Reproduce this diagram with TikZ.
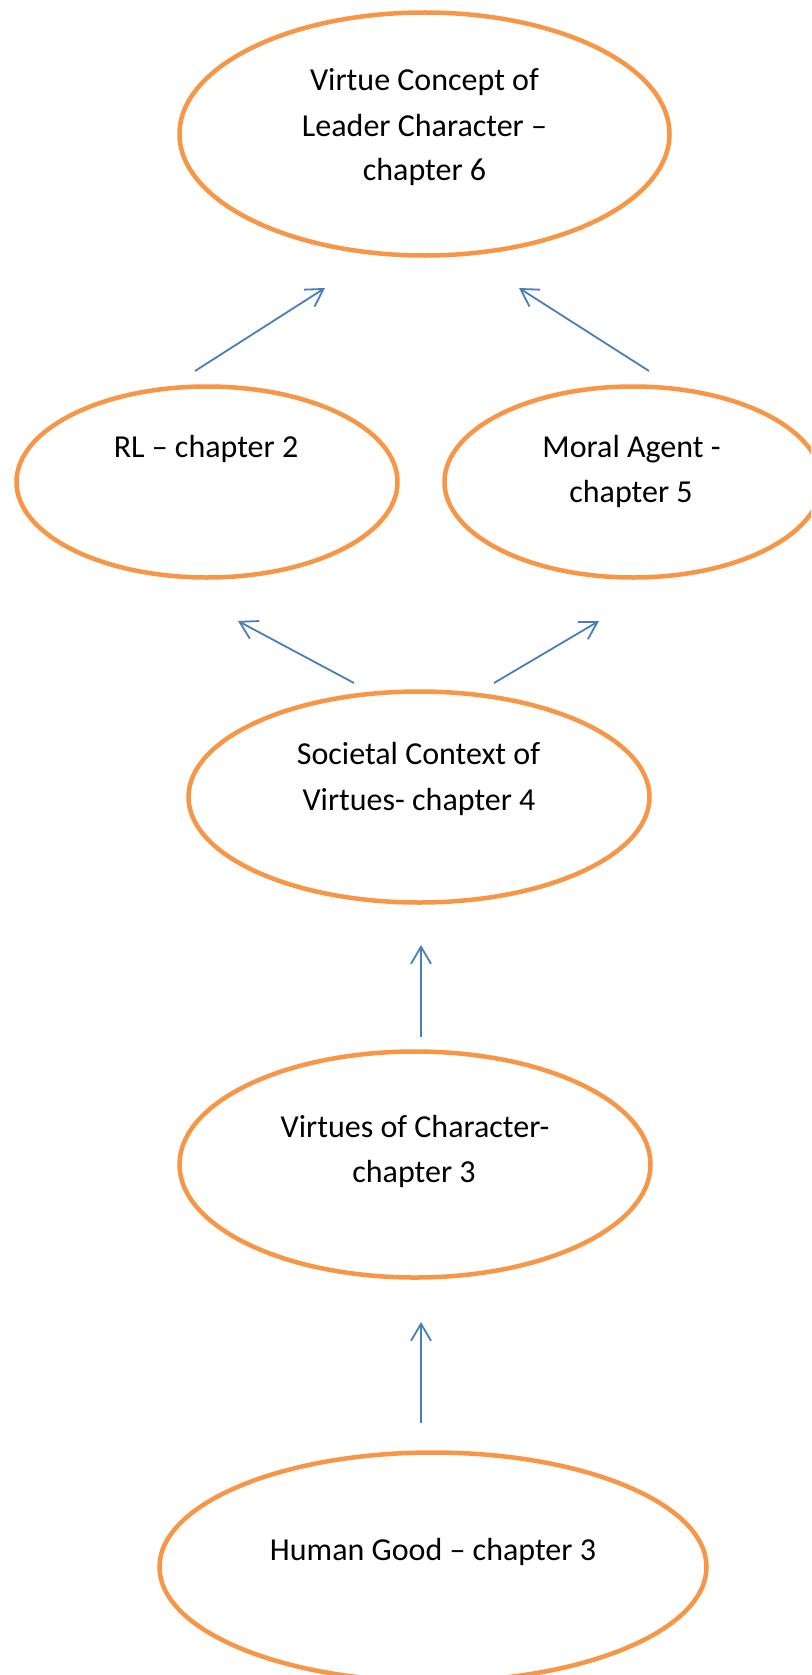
\documentclass[tikz,border=0pt]{standalone}
\usepackage{fontspec}
\setmainfont{Carlito}
\usetikzlibrary{shapes.geometric,arrows.meta}
\definecolor{ovalorange}{RGB}{247,150,70}
\definecolor{arrowblue}{RGB}{74,126,187}
\tikzset{
  oval/.style={ellipse, draw=ovalorange, line width=4.5pt, inner sep=0pt, fill=none},
  lbl/.style={anchor=base, inner sep=0pt, font=\fontsize{32}{45}\selectfont, text=black},
  link/.style={draw=arrowblue, line width=1.8pt, -{Straight Barb[length=17pt,width=20pt,line width=1.8pt]}}
}
\begin{document}
\begin{tikzpicture}[x=1pt,y=-1pt]
\useasboundingbox (0,0) rectangle (811,1675);
\clip (0,0) rectangle (811,1675);
\fill[white] (0,0) rectangle (811,1675);

% ovals
\node[oval, minimum width=490pt, minimum height=243pt] (top) at (424.5,134) {};
\node[oval, minimum width=381pt, minimum height=191pt] (rl) at (207,482) {};
\node[oval, minimum width=377pt, minimum height=191pt] (moral) at (633,482) {};
\node[oval, minimum width=461pt, minimum height=211pt] (soc) at (419,797) {};
\node[oval, minimum width=471pt, minimum height=226pt] (voc) at (415,1164.5) {};
\node[oval, minimum width=547pt, minimum height=229pt] (hg) at (433,1567) {};

% texts
\node[lbl] (topA) at (424.5,91) {Virtue Concept of};
\node[lbl] (topB) at (424.5,136) {Leader Character –};
\node[lbl] (topC) at (424.5,180) {chapter 6};
\node[lbl] (rlA) at (206,457) {RL – chapter 2};
\node[lbl] (moralA) at (631.5,457) {Moral Agent -};
\node[lbl] (moralB) at (631,502) {chapter 5};
\node[lbl] (socA) at (418.5,764) {Societal Context of};
\node[lbl] (socB) at (419,810) {Virtues- chapter 4};
\node[lbl] (vocA) at (415,1137) {Virtues of Character-};
\node[lbl] (vocB) at (414,1182) {chapter 3};
\node[lbl] (hgA) at (433,1560) {Human Good – chapter 3};

% arrow end points
\coordinate (a1s) at (195,371);  \coordinate (a1e) at (325,288);
\coordinate (a2s) at (649,371);  \coordinate (a2e) at (519,288);
\coordinate (a3s) at (354,683);  \coordinate (a3e) at (238,621);
\coordinate (a4s) at (494,683);  \coordinate (a4e) at (599,621);
\coordinate (a5s) at (421,1037); \coordinate (a5e) at (421,945);
\coordinate (a6s) at (421,1423); \coordinate (a6e) at (421,1322);

\draw[link] (a1s) -- (a1e);
\draw[link] (a2s) -- (a2e);
\draw[link] (a3s) -- (a3e);
\draw[link] (a4s) -- (a4e);
\draw[link] (a5s) -- (a5e);
\draw[link] (a6s) -- (a6e);
\end{tikzpicture}
\end{document}
